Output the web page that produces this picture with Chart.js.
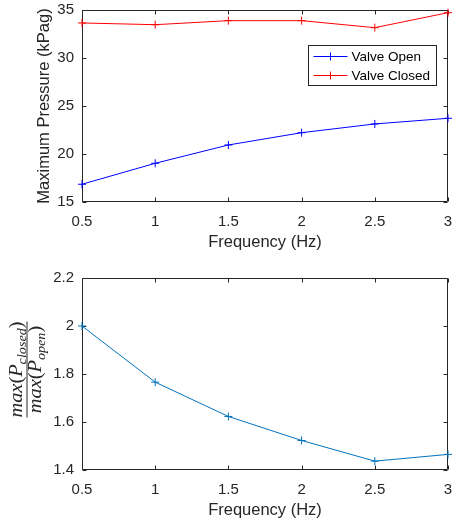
<!DOCTYPE html>
<html><head><meta charset="utf-8">
<script src="https://cdn.jsdelivr.net/npm/chart.js@4/dist/chart.umd.min.js"></script>
<style>
html,body{margin:0;padding:0;background:#fff;width:453px;height:523px;overflow:hidden}
canvas{position:absolute;left:0}
#top{top:0}
#bot{top:260px}
</style></head>
<body>
<canvas id="top" width="453" height="260"></canvas>
<canvas id="bot" width="453" height="263"></canvas>
<script>
// ---- data ----
const frequencies = [0.5, 1, 1.5, 2, 2.5, 3];
const pressureOpen = [16.85, 19.03, 20.94, 22.22, 23.13, 23.72];
const pressureClosed = [33.65, 33.47, 33.89, 33.89, 33.16, 34.72];
const pressureRatio = [2.0, 1.766, 1.623, 1.523, 1.437, 1.465];
const freqTicks = [0.5, 1, 1.5, 2, 2.5, 3];
const pressureTicks = [15, 20, 25, 30, 35];
const ratioTicks = [1.4, 1.6, 1.8, 2, 2.2];
const seriesNames = ['Valve Open', 'Valve Closed'];

const AX = '#262626';
Chart.defaults.font.family = "'Liberation Sans', Arial, Helvetica, sans-serif";
Chart.defaults.color = AX;

const pts = ys => frequencies.map((f, i) => ({x: f, y: ys[i]}));

const axesBox = {
  id: 'axesBox',
  beforeDatasetsDraw(chart) {
    const {ctx, chartArea: a, scales: {x, y}} = chart;
    ctx.save();
    ctx.strokeStyle = AX; ctx.lineWidth = 1;
    const L = Math.round(a.left) + 0.5, R = Math.round(a.right) - 0.5;
    const T = Math.round(a.top) + 0.5, B = Math.round(a.bottom) - 0.5;
    ctx.beginPath();
    ctx.rect(L, T, R - L, B - T);
    x.ticks.forEach(t => {
      const p = Math.round(x.getPixelForValue(t.value)) + 0.5;
      ctx.moveTo(p, B); ctx.lineTo(p, B - 4);
      ctx.moveTo(p, T); ctx.lineTo(p, T + 4);
    });
    y.ticks.forEach(t => {
      const p = Math.round(y.getPixelForValue(t.value)) + 0.5;
      ctx.moveTo(L, p); ctx.lineTo(L + 4, p);
      ctx.moveTo(R, p); ctx.lineTo(R - 4, p);
    });
    ctx.stroke();
    ctx.restore();
  }
};

const boxLegend = {
  id: 'boxLegend',
  afterDatasetsDraw(chart) {
    const {ctx, chartArea: a} = chart;
    const bw = 128, bh = 40;
    const bx = Math.round(a.right) - 12 - bw + 0.5, by = Math.round(a.top) + 35.5;
    ctx.save();
    ctx.fillStyle = '#fff'; ctx.fillRect(bx, by, bw, bh);
    ctx.strokeStyle = AX; ctx.lineWidth = 1; ctx.strokeRect(bx, by, bw, bh);
    chart.data.datasets.forEach((ds, i) => {
      const yy = by + 11 + i * 19;
      const x0 = bx + 5, x1 = bx + 39, xc = (x0 + x1) / 2;
      ctx.strokeStyle = ds.borderColor; ctx.lineWidth = 1;
      ctx.beginPath();
      ctx.moveTo(x0, yy); ctx.lineTo(x1, yy);
      ctx.moveTo(xc, yy - 4); ctx.lineTo(xc, yy + 4);
      ctx.stroke();
      ctx.fillStyle = '#000';
      ctx.font = "13.5px 'Liberation Sans', Arial, sans-serif";
      ctx.textBaseline = 'middle'; ctx.textAlign = 'left';
      ctx.fillText(ds.label, x1 + 4, yy + 0.5);
    });
    ctx.restore();
  }
};

const fractionLabel = {
  id: 'fractionLabel',
  afterDraw(chart) {
    const {ctx, chartArea: a} = chart;
    const cx = 27, cy = (a.top + a.bottom) / 2 - 4.5;
    const main = 18, sub = 12.5;
    const it = s => `italic ${s}px "Liberation Serif", "DejaVu Serif", serif`;
    const up = s => `${s}px "Liberation Serif", "DejaVu Serif", serif`;
    const rows = [
      {v: -5, parts: [{t: 'max', f: it(main)}, {t: '(', f: up(main)}, {t: 'P', f: it(main)}, {t: 'closed', f: it(sub), dy: 3.5}, {t: ')', f: up(main)}]},
      {v: 14, parts: [{t: 'max', f: it(main)}, {t: '(', f: up(main)}, {t: 'P', f: it(main)}, {t: 'open', f: it(sub), dy: 3.5}, {t: ')', f: up(main)}]}
    ];
    ctx.save();
    ctx.setTransform(1, 0, 0, 1, 0, 0);
    ctx.textBaseline = 'alphabetic'; ctx.textAlign = 'left'; ctx.direction = 'ltr';
    let maxW = 0;
    rows.forEach(r => {
      let w = 0;
      r.parts.forEach(p => { ctx.font = p.f; p.w = ctx.measureText(p.t).width; w += p.w; });
      r.w = w; maxW = Math.max(maxW, w);
    });
    const k = 96 / maxW;
    ctx.translate(cx, cy);
    ctx.rotate(-Math.PI / 2);
    ctx.fillStyle = AX;
    ctx.fillRect(-48, -0.5, 96, 1);
    rows.forEach(r => {
      ctx.save();
      ctx.translate(0, r.v);
      ctx.scale(k, 1);
      let x = -r.w / 2;
      r.parts.forEach(p => { ctx.font = p.f; ctx.fillText(p.t, x, (p.dy || 0)); x += p.w; });
      ctx.restore();
    });
    ctx.restore();
  }
};

function xScale(titlePadBottom, h) {
  return {
    type: 'linear', min: 0.5, max: 3,
    afterBuildTicks: s => { s.ticks = freqTicks.map(v => ({value: v})); },
    ticks: {font: {size: 15}, padding: 11, maxRotation: 0, autoSkip: false, callback: v => String(v), color: AX},
    grid: {display: false, drawTicks: false, tickLength: 0}, border: {display: false},
    title: {display: true, text: 'Frequency (Hz)', font: {size: 16.5}, color: AX, padding: {top: 0, bottom: titlePadBottom}},
    afterFit: s => { s.height = h; s.paddingLeft = 0; s.paddingRight = 0; }
  };
}
function yScale(min, max, tickVals, title) {
  return {
    type: 'linear', min, max,
    afterBuildTicks: s => { s.ticks = tickVals.map(v => ({value: v})); },
    ticks: {font: {size: 15}, padding: 8, callback: v => String(v), color: AX},
    grid: {display: false, drawTicks: false, tickLength: 0}, border: {display: false},
    title: title ? {display: true, text: title, font: {size: 16.5}, color: AX, padding: {top: 35, bottom: 0}} : {display: false},
    afterFit: s => { s.width = 82; s.paddingTop = 0; s.paddingBottom = 0; }
  };
}

const lineDs = (label, data, color) => ({
  label, data, borderColor: color, backgroundColor: color,
  borderWidth: 1, pointStyle: 'cross', pointRadius: 4, pointBorderWidth: 1,
  pointHoverRadius: 4, tension: 0, clip: false, fill: false
});

new Chart(document.getElementById('top'), {
  type: 'line',
  data: {datasets: [
    lineDs(seriesNames[0], pts(pressureOpen), '#0000ff'),
    lineDs(seriesNames[1], pts(pressureClosed), '#ff0000')
  ]},
  options: {
    responsive: false, animation: false, devicePixelRatio: 1,
    layout: {padding: {left: 0, right: 3, top: 10, bottom: 0}},
    plugins: {legend: {display: false}, tooltip: {enabled: false}},
    scales: {x: xScale(8, 58), y: yScale(15, 35, pressureTicks, 'Maximum Pressure (kPag)')}
  },
  plugins: [axesBox, boxLegend]
});

new Chart(document.getElementById('bot'), {
  type: 'line',
  data: {datasets: [lineDs('ratio', pts(pressureRatio), '#0072bd')]},
  options: {
    responsive: false, animation: false, devicePixelRatio: 1,
    layout: {padding: {left: 0, right: 3, top: 18, bottom: 0}},
    plugins: {legend: {display: false}, tooltip: {enabled: false}},
    scales: {x: xScale(3, 53), y: yScale(1.4, 2.2, ratioTicks, null)}
  },
  plugins: [axesBox, fractionLabel]
});
</script>
</body></html>
